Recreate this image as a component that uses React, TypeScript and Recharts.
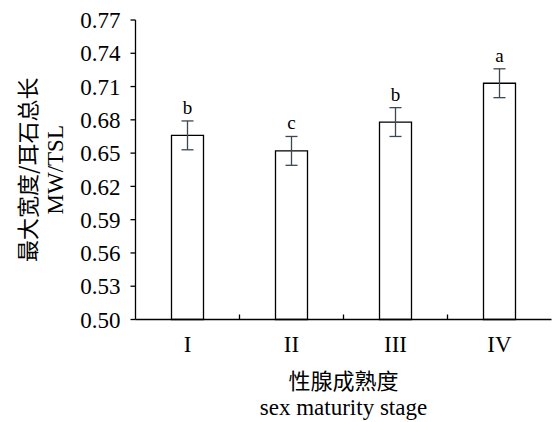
import { BarChart, Bar, XAxis, YAxis, ErrorBar, LabelList, Rectangle } from "recharts";

const stages = ["I", "II", "III", "IV"];
const means = [0.666, 0.652, 0.678, 0.713];
const errs = [0.013, 0.013, 0.013, 0.013];
const letters = ["b", "c", "b", "a"];
const yTicks = [0.5, 0.53, 0.56, 0.59, 0.62, 0.65, 0.68, 0.71, 0.74, 0.77];

const FONT = "'Liberation Serif', 'Times New Roman', 'Noto Sans CJK SC', serif";
const CJK = "'Noto Sans CJK SC', 'Liberation Serif', serif";

const CHART_W = 553;
const CHART_H = 422;
const MARGIN_R = 1.5;
const Y_AXIS_W = 135.5;
const HALF_BAND = (CHART_W - MARGIN_R - Y_AXIS_W) / stages.length / 2;

const data = stages.map((s, i) => ({
  stage: s,
  mean: means[i],
  err: errs[i],
  letter: letters[i],
}));

// letter sits just above the error bar cap
const LetterLabel = (props: any) => {
  const { x, y, width, height, index } = props;
  const i = index ?? 0;
  const pxPerUnit = height / (means[i] - 0.5);
  const top = y - errs[i] * pxPerUnit;
  return (
    <text x={x + width / 2} y={top - 7} textAnchor="middle" fontSize={19} fontFamily={FONT} fill="#000">
      {letters[i]}
    </text>
  );
};

// open bar, plus the small inward x-axis tick at the right edge of its band
const BarWithTick = (props: any) => {
  const { x, y, width, height, payload } = props;
  const isLast = payload?.stage === stages[stages.length - 1];
  const bx = x + width / 2 + HALF_BAND;
  const base = y + height;
  return (
    <g>
      <Rectangle x={x} y={y} width={width} height={height} fill="#fff" stroke="#000" strokeWidth={1.3} />
      {!isLast && <path d={`M${bx},${base}L${bx},${base - 5}`} stroke="#000" strokeWidth={1.3} fill="none" />}
    </g>
  );
};

const YTitle = (props: any) => {
  const cy = props.viewBox.y + props.viewBox.height / 2;
  return (
    <g>
      <text x={26} y={cy} transform={`rotate(-90 26 ${cy})`} textAnchor="middle" dominantBaseline="central" fontSize={22} fontFamily={CJK} fill="#000">
        最大宽度/耳石总长
      </text>
      <text x={55} y={cy} transform={`rotate(-90 55 ${cy})`} textAnchor="middle" dominantBaseline="central" fontSize={23} fontFamily={FONT} fill="#000">
        MW/TSL
      </text>
    </g>
  );
};

const XTitle = (props: any) => {
  const cx = props.viewBox.x + props.viewBox.width / 2;
  return (
    <g>
      <text x={cx} y={379} textAnchor="middle" dominantBaseline="central" fontSize={22} fontFamily={CJK} fill="#000">
        性腺成熟度
      </text>
      <text x={cx} y={407} textAnchor="middle" dominantBaseline="central" fontSize={23} fontFamily={FONT} fill="#000">
        sex maturity stage
      </text>
    </g>
  );
};

export default function App() {
  return (
    <div style={{ position: "absolute", left: 0, top: 0, background: "#fff" }}>
      <BarChart width={CHART_W} height={CHART_H} data={data} margin={{ top: 20, right: MARGIN_R, bottom: 0, left: 0 }}>
        <XAxis
          dataKey="stage"
          tickLine={false}
          tickSize={0}
          tickMargin={16}
          height={102.5}
          axisLine={{ stroke: "#000", strokeWidth: 1.3 }}
          tick={{ fontSize: 23, fontFamily: FONT, fill: "#000" }}
          label={<XTitle />}
        />
        <YAxis
          domain={[0.5, 0.77]}
          ticks={yTicks}
          width={Y_AXIS_W}
          tickSize={5}
          tickMargin={10}
          tickFormatter={(v: number) => v.toFixed(2)}
          axisLine={{ stroke: "#000", strokeWidth: 1.3 }}
          tickLine={{ stroke: "#000", strokeWidth: 1.3 }}
          tick={{ fontSize: 23, fontFamily: FONT, fill: "#000" }}
          label={<YTitle />}
        />
        <Bar dataKey="mean" barSize={32} fill="#fff" stroke="#000" strokeWidth={1.3} shape={<BarWithTick />} isAnimationActive={false}>
          <ErrorBar dataKey="err" width={6} stroke="#3a4852" strokeWidth={1.3} />
          <LabelList dataKey="letter" content={<LetterLabel />} />
        </Bar>
      </BarChart>
    </div>
  );
}
